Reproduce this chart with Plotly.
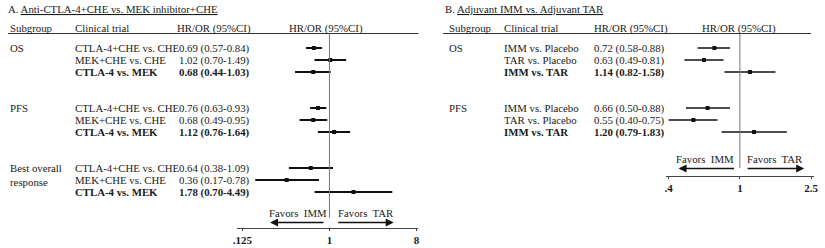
import plotly.graph_objects as go

W, H = 825, 248

# ---------------- data ----------------
a_groups = ["OS", "PFS", "Best overall<br>response"]
a_trials = ["CTLA-4+CHE vs. CHE", "MEK+CHE vs. CHE", "CTLA-4 vs. MEK"]
a_hr = [0.69, 1.02, 0.68, 0.76, 0.68, 1.12, 0.64, 0.36, 1.78]
a_lo = [0.57, 0.70, 0.44, 0.63, 0.49, 0.76, 0.38, 0.17, 0.70]
a_hi = [0.84, 1.49, 1.03, 0.93, 0.95, 1.64, 1.09, 0.78, 4.49]
a_ticks = [0.125, 1, 8]
a_ticktext = [".125", "1", "8"]

b_groups = ["OS", "PFS"]
b_trials = ["IMM vs. Placebo", "TAR vs. Placebo", "IMM vs. TAR"]
b_hr = [0.72, 0.63, 1.14, 0.66, 0.55, 1.20]
b_lo = [0.58, 0.49, 0.82, 0.50, 0.40, 0.79]
b_hi = [0.88, 0.81, 1.58, 0.88, 0.75, 1.83]
b_ticks = [0.4, 1, 2.5]
b_ticktext = [".4", "1", "2.5"]

favors = ["Favors\u00a0 IMM", "Favors\u00a0 TAR"]

# ---------------- layout helpers ----------------
FONT = "Liberation Serif"
TXT = "#1a1a1a"
FS = 10.8


def row_y(g, i):
    return 48 + 60 * g + 12 * i


def px(x):
    return x / W


fig = go.Figure()
annotations = []
shapes = []


def text(x, y, s, anchor="left", size=FS, bold=False):
    annotations.append(dict(
        x=px(x), y=y, xref="paper", yref="y", text=("<b>%s</b>" % s) if bold else s,
        showarrow=False, xanchor=anchor, yanchor="middle", align=anchor if anchor != "center" else "center",
        borderpad=0, borderwidth=0,
        font=dict(family=FONT, size=size, color=TXT)))


def arrow(x_tip, x_tail, y):
    annotations.append(dict(
        x=px(x_tip), y=y, xref="paper", yref="y", ax=x_tail - x_tip, ay=0,
        axref="pixel", ayref="pixel", text="", showarrow=True,
        arrowhead=2, arrowsize=1, arrowwidth=1.6, arrowcolor="#111"))


def panel(xaxis, groups, trials, hr, lo, hi, lw):
    ys = []
    for g in range(len(groups)):
        for i in range(len(trials)):
            ys.append(row_y(g, i))
    fig.add_trace(go.Scatter(
        x=hr, y=ys, xaxis=xaxis, yaxis="y", mode="markers",
        marker=dict(symbol="square", size=4, color="#111"),
        error_x=dict(type="data", symmetric=False,
                     array=[h - m for h, m in zip(hi, hr)],
                     arrayminus=[m - l for m, l in zip(hr, lo)],
                     color="#111", thickness=lw, width=0),
        showlegend=False, hoverinfo="skip"))
    return ys


# ---------------- Panel A ----------------
panel("x", a_groups, a_trials, a_hr, a_lo, a_hi, 1.8)
text(3, 9, "A. <u>Anti-CTLA-4+CHE vs. MEK inhibitor+CHE</u>")
text(5, 28, "Subgroup")
text(71, 28, "Clinical trial")
text(249, 28, "HR/OR (95%CI)", anchor="right")
text(325, 28, "HR/OR (95%CI)", anchor="center")
shapes.append(dict(type="line", xref="paper", yref="y", x0=px(3), x1=px(418),
                   y0=33.5, y1=33.5, line=dict(color="#333", width=1)))
for g, name in enumerate(a_groups):
    if "<br>" in name:
        text(5, row_y(g, 0) + 6.5, name)
    else:
        text(5, row_y(g, 0), name)
    for i, t in enumerate(a_trials):
        k = g * len(a_trials) + i
        bold = (i == len(a_trials) - 1)
        text(71, row_y(g, i), t, bold=bold)
        text(248, row_y(g, i), "%.2f (%.2f-%.2f)" % (a_hr[k], a_lo[k], a_hi[k]),
             anchor="right", bold=bold)
shapes.append(dict(type="line", xref="x", yref="y", x0=1, x1=1, y0=33.5, y1=218,
                   line=dict(color="#777", width=1)))
text(296, 213, favors[0], anchor="center")
text(365, 213, favors[1], anchor="center")
arrow(268, 323, 222.5)
arrow(393, 336, 222.5)

# ---------------- Panel B ----------------
panel("x2", b_groups, b_trials, b_hr, b_lo, b_hi, 1.3)
text(445, 9, "B. <u>Adjuvant IMM vs. Adjuvant TAR</u>")
text(449, 28, "Subgroup")
text(505, 28, "Clinical trial")
text(596, 28, "HR/OR (95%CI)")
text(742, 28, "HR/OR (95%CI)", anchor="center")
shapes.append(dict(type="line", xref="paper", yref="y", x0=px(443), x1=px(815),
                   y0=33.5, y1=33.5, line=dict(color="#333", width=1)))
for g, name in enumerate(b_groups):
    text(449, row_y(g, 0), name)
    for i, t in enumerate(b_trials):
        k = g * len(b_trials) + i
        bold = (i == len(b_trials) - 1)
        text(505, row_y(g, i), t, bold=bold)
        text(596, row_y(g, i), "%.2f (%.2f-%.2f)" % (b_hr[k], b_lo[k], b_hi[k]),
             bold=bold)
shapes.append(dict(type="line", xref="x2", yref="y", x0=1, x1=1, y0=33.5, y1=168,
                   line=dict(color="#777", width=1)))
text(708, 159, favors[0], anchor="center")
text(778, 159, favors[1], anchor="center")
arrow(681, 738, 168.5)
arrow(808, 750, 168.5)

axis_common = dict(type="log", showgrid=False, zeroline=False, showline=True,
                   linecolor="#444", linewidth=1, ticks="outside", ticklen=2,
                   tickcolor="#444", anchor="free",
                   tickfont=dict(family=FONT, size=11, color=TXT, weight="bold"))

fig.update_layout(
    width=W, height=H, margin=dict(l=0, r=0, t=0, b=0),
    paper_bgcolor="white", plot_bgcolor="white", showlegend=False,
    xaxis=dict(domain=[235 / W, 418 / W], range=[-0.9544, 0.9236],
               position=1 - 228 / H, tickvals=a_ticks, ticktext=a_ticktext,
               **axis_common),
    xaxis2=dict(domain=[668 / W, 818 / W], range=[-0.4145, 0.4145],
                position=1 - 176 / H, tickvals=b_ticks, ticktext=b_ticktext,
                **axis_common),
    yaxis=dict(domain=[0, 1], range=[H, 0], visible=False, fixedrange=True),
    annotations=annotations, shapes=shapes,
)

fig.write_html("out.html", config={"displayModeBar": False},
               post_script="document.body.style.margin='0';")
